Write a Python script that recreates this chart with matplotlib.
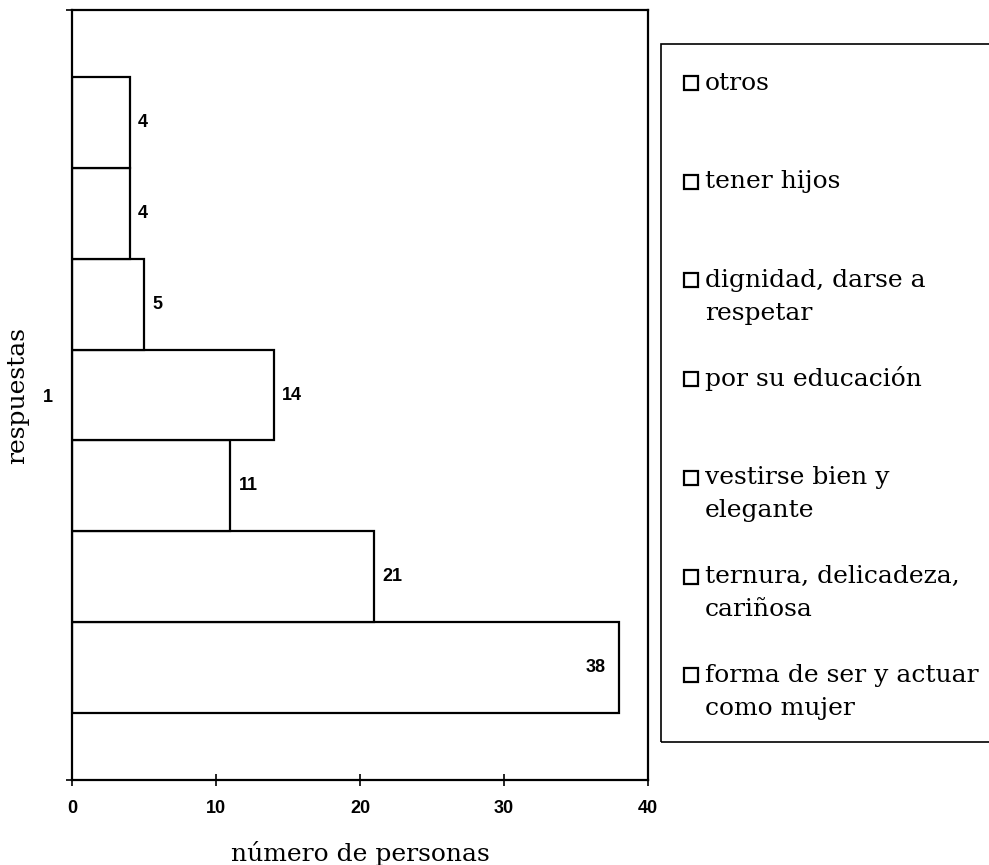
import matplotlib
matplotlib.use("Agg")
import matplotlib.pyplot as plt
from matplotlib.patches import Rectangle

# datos (orden de abajo hacia arriba, como en el grafico)
categorias = ["forma de ser y actuar\ncomo mujer",
              "ternura, delicadeza,\ncariñosa",
              "vestirse bien y\nelegante",
              "por su educación",
              "dignidad, darse a\nrespetar",
              "tener hijos",
              "otros"]
valores = [38, 21, 11, 14, 5, 4, 4]
grupo = [1]
xticks = [0, 10, 20, 30, 40]

serif = "DejaVu Serif"
sans = "Liberation Sans"

W, H = 989, 865
fig = plt.figure(figsize=(W / 100, H / 100), dpi=100)
ax = fig.add_axes([72 / W, 1 - 780 / H, 576 / W, 770 / H])

n = len(valores)
total = 0.827  # fraccion de la categoria ocupada por las barras
alto = total / n
for i, (cat, v) in enumerate(zip(categorias, valores)):
    y = grupo[0] - total / 2 + alto * (i + 0.5)
    ax.barh(y, v, height=alto, color="white", edgecolor="black",
            linewidth=1.6, label=cat)
    if v > 0.85 * xticks[-1]:
        ax.annotate(str(v), (v, y), xytext=(-10, 0), textcoords="offset points",
                    ha="right", va="center", fontsize=13, fontweight="bold",
                    family=sans)
    else:
        ax.annotate(str(v), (v, y), xytext=(6, 0), textcoords="offset points",
                    ha="left", va="center", fontsize=13, fontweight="bold",
                    family=sans)

ax.set_xlim(xticks[0], xticks[-1])
ax.set_ylim(grupo[0] - 0.5, grupo[0] + 0.5)
ax.set_xticks(xticks)
ax.set_xticklabels([str(t) for t in xticks], fontsize=13, fontweight="bold",
                   family=sans)
ax.tick_params(axis="x", direction="inout", length=9, width=1.2, pad=10)
ax.set_yticks([grupo[0] - 0.5, grupo[0] + 0.5])
ax.set_yticklabels(["", ""])
ax.set_yticks(grupo, minor=True)
ax.set_yticklabels([str(g) for g in grupo], minor=True, fontsize=13,
                   fontweight="bold", family=sans)
ax.tick_params(axis="y", which="major", direction="out", length=4, width=1.2)
ax.tick_params(axis="y", which="minor", length=0, pad=14)
for s in ax.spines.values():
    s.set_linewidth(1.6)

ax.set_xlabel("número de personas", fontsize=18, family=serif, va="center")
ax.xaxis.set_label_coords(0.5, (780 - 853) / 770)
ax.set_ylabel("respuestas", fontsize=18, family=serif, va="center", ha="center")
ax.yaxis.set_label_coords((18 - 72) / 576, 0.5)

# leyenda (recuadro a la derecha, cortado por el borde)
fig.add_artist(Rectangle((661 / W, 1 - 742 / H), (1010 - 661) / W, (742 - 44) / H,
                         transform=fig.transFigure, fill=False,
                         edgecolor="black", linewidth=1.2))
for j, cat in enumerate(categorias[::-1]):
    yc = 83 + j * 98.7
    fig.add_artist(Rectangle((684 / W, 1 - (yc + 7) / H), 14 / W, 14 / H,
                             transform=fig.transFigure, fill=False,
                             edgecolor="black", linewidth=1.6))
    for k, linea in enumerate(cat.split("\n")):
        fig.text(705 / W, 1 - (yc + 6.5 + 33 * k) / H, linea, ha="left",
                 va="baseline", fontsize=18, family=serif)

fig.savefig("out.png", dpi=100)
